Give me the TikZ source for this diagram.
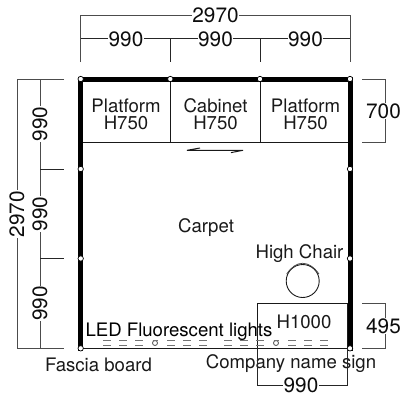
\documentclass[tikz,border=0pt]{standalone}
\usepackage{fontspec}
\setmainfont{TeX Gyre Heros}
\tikzset{
  x=1pt,y=-1pt,
  wall/.style={line width=5pt,black,line cap=butt},
  thin/.style={line width=1pt,black!90},
  dimline/.style={line width=1pt,black!70},
  tick/.style={line width=1pt,black!85},
  lbl/.style={font=\fontsize{18.6}{17}\selectfont,align=center,inner sep=0pt,text=black!90},
  dimtxt/.style={font=\fontsize{20.8}{20}\selectfont,inner sep=0.6pt,fill=white,text=black!95},
  jn/.style={circle,draw=black,fill=white,line width=0.7pt,minimum size=5.4pt,inner sep=0pt},
  lamp/.style={line width=0.8pt,black!55},
  spot/.style={circle,draw=black!70,line width=0.8pt,minimum size=5pt,inner sep=0pt,fill=white}
}
\begin{document}
\begin{tikzpicture}
\useasboundingbox (0,0) rectangle (407,397);
% room corners and junctions
\coordinate (TL) at (80.7,79);
\coordinate (T1) at (170.3,79);
\coordinate (T2) at (260,79);
\coordinate (TR) at (350,79);
\coordinate (L1) at (80.7,169);
\coordinate (L2) at (80.7,258.5);
\coordinate (BL) at (80.7,348.3);
\coordinate (R1) at (350,169);
\coordinate (R2) at (350,258.5);
\coordinate (BR) at (350,348.3);
\coordinate (ML) at (80.7,142);
\coordinate (M1) at (170.3,142);
\coordinate (M2) at (260,142);
\coordinate (MR) at (350,142);
% interior lines
\draw[thin] (ML) -- (MR);
\draw[thin] (T1) -- (M1);
\draw[thin] (T2) -- (M2);
\draw[thin] (BL) -- (BR);
% walls
\draw[wall,line cap=rect] (BL) -- (TL) -- (TR) -- (BR);
% labels
\node[lbl] (p1) at (126,114.5) {Platform\\H750};
\node[lbl] (cab) at (215.5,114.5) {Cabinet\\H750};
\node[lbl] (p2) at (305.5,114.5) {Platform\\H750};
\node[lbl] (carpet) at (206,228) {Carpet};
\node[lbl] (hc) at (299.5,253.5) {High Chair};
\node[lbl] (fascia) at (98.5,365) {Fascia board};
% sliding door
\coordinate (dA) at (187,150.3);
\coordinate (dB) at (243,150.3);
\coordinate (dA2) at (200,148);
\coordinate (dB2) at (231,152.6);
\draw[thin] (dA2) -- (dA) -- (dB) -- (dB2);
% chair
\node[circle,draw=black!90,line width=0.9pt,minimum size=33pt,inner sep=0pt] (chair) at (302.7,281) {};
\coordinate (arcA) at (286.7,274);
\coordinate (arcB) at (319,274);
\draw[line width=0.7pt,black!75] (arcA) .. controls (296,259.7) and (309,259.7) .. (arcB);
% counter
\coordinate (cTL) at (257.3,303);
\coordinate (cTR) at (347,303);
\coordinate (cBL) at (257.3,348.3);
\coordinate (cBR) at (347,348.3);
\draw[thin] (cBL) -- (cTL) -- (cTR) -- (cBR);
\node[lbl] (h1000) at (304,321.5) {H1000};
% lamps
\foreach \x in {103,119,135,167,183,199,224,240,256,288,304,320}{
  \draw[lamp] (\x,340) -- ++(8,0);
  \draw[lamp] (\x,345.6) -- ++(8,0);
}
\node[spot] (s1) at (155,343) {};
\node[spot] (s2) at (276,343) {};
\draw[lamp] (152.5,340) -- (157.5,340);
\draw[lamp] (273.5,340) -- (278.5,340);
\node[lbl,text=black] (led) at (179,331.5) {LED Fluorescent lights};
\node[lbl] (sign) at (291,364) {Company name sign};
% junction dots
\foreach \c in {TL,T1,T2,TR,L1,L2,BL,R1,R2,BR} \node[jn] at (\c) {};
% top dimensions
\coordinate (a0) at (80.7,15);
\coordinate (a1) at (350,15);
\coordinate (a0e) at (80.7,62);
\coordinate (a1e) at (350,62);
\coordinate (b0) at (80.7,38.5);
\coordinate (b1) at (170.3,38.5);
\coordinate (b2) at (260,38.5);
\coordinate (b3) at (350,38.5);
\coordinate (b1e) at (170.3,62);
\coordinate (b2e) at (260,62);
\draw[dimline] (a0e) -- (a0) -- (a1) -- (a1e);
\draw[tick] (b0) -- (b3);
\draw[tick] (b1) -- (b1e);
\draw[tick] (b2) -- (b2e);
\node[dimtxt] (t2970) at (215.5,15.5) {2970};
\node[dimtxt] (t9901) at (126,38.8) {990};
\node[dimtxt] (t9902) at (215.5,38.8) {990};
\node[dimtxt] (t9903) at (305.5,38.8) {990};
% left dimensions
\coordinate (c0) at (17,79);
\coordinate (c3) at (17,348.3);
\coordinate (c0e) at (64,79);
\coordinate (c3e) at (64,348.3);
\coordinate (d0) at (40,79);
\coordinate (d1) at (40,169);
\coordinate (d2) at (40,258.5);
\coordinate (d3) at (40,348.3);
\coordinate (d1e) at (64,169);
\coordinate (d2e) at (64,258.5);
\draw[dimline] (c0e) -- (c0) -- (c3) -- (c3e);
\draw[dimline] (d0) -- (d3);
\draw[tick] (d1) -- (d1e);
\draw[tick] (d2) -- (d2e);
\node[dimtxt,rotate=90] (l2970) at (17,214) {2970};
\node[dimtxt,rotate=90] (l9901) at (40,124) {990};
\node[dimtxt,rotate=90] (l9902) at (40,214) {990};
\node[dimtxt,rotate=90] (l9903) at (40,303.5) {990};
% right dimensions
\coordinate (e0) at (362,79);
\coordinate (e1) at (385,79);
\coordinate (e2) at (385,142);
\coordinate (e3) at (362,142);
\draw[dimline] (e0) -- (e1) -- (e2) -- (e3);
\node[dimtxt] (r700) at (383.5,111) {700};
\coordinate (f0) at (362,303);
\coordinate (f1) at (385,303);
\coordinate (f2) at (385,348.3);
\coordinate (f3) at (362,348.3);
\draw[dimline] (f0) -- (f1) -- (f2) -- (f3);
\node[dimtxt] (r495) at (383.5,326) {495};
% bottom dimension
\coordinate (g0) at (257.3,348.3);
\coordinate (g1) at (257.3,385);
\coordinate (g2) at (347,385);
\coordinate (g3) at (347,348.3);
\draw[tick] (g0) -- (g1) -- (g2) -- (g3);
\node[dimtxt] (b990) at (301,385.5) {990};
\end{tikzpicture}
\end{document}
